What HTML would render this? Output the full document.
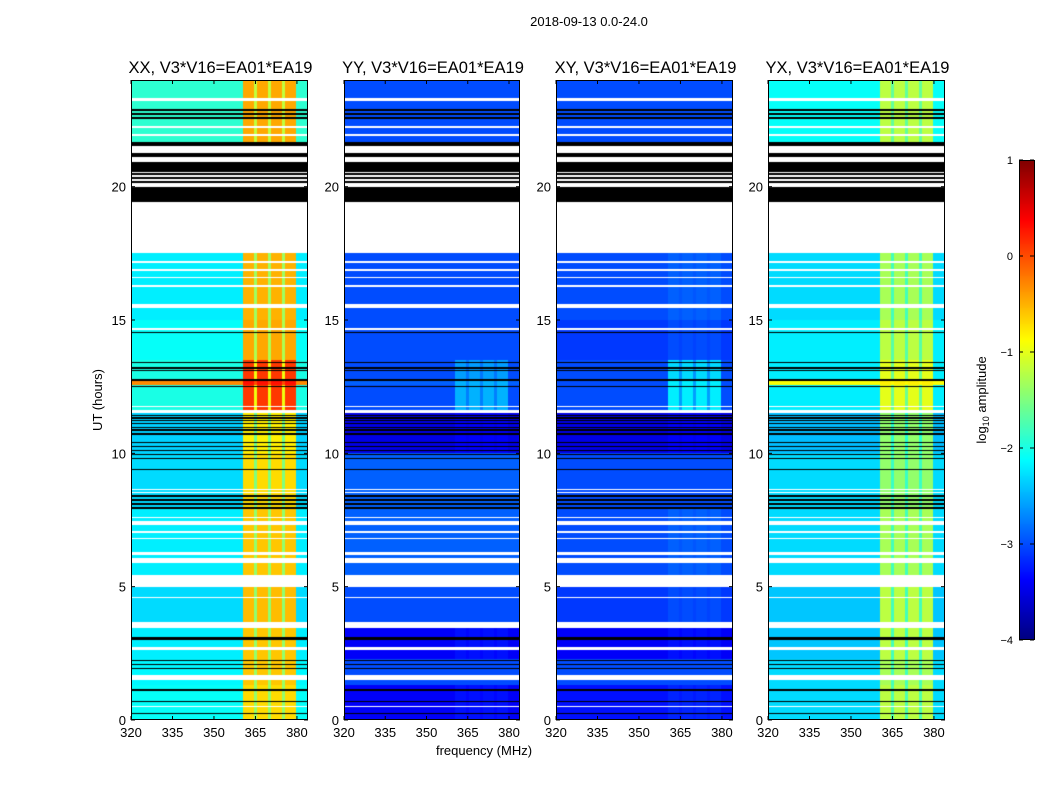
<!DOCTYPE html>
<html><head><meta charset="utf-8">
<style>
body{margin:0;background:#fff;width:1050px;height:800px;overflow:hidden;font-family:"Liberation Sans",sans-serif;}
svg text{font-family:"Liberation Sans",sans-serif;fill:#000;}
canvas{position:absolute;}
</style></head>
<body>
<div id="root" style="position:relative;width:1050px;height:800px;">
<canvas id="c0" width="177" height="640" style="left:131px;top:80px"></canvas>
<canvas id="c1" width="176" height="640" style="left:344px;top:80px"></canvas>
<canvas id="c2" width="177" height="640" style="left:556px;top:80px"></canvas>
<canvas id="c3" width="177" height="640" style="left:768px;top:80px"></canvas>
<canvas id="cb" width="15" height="480" style="left:1019px;top:160px"></canvas>
<svg id="ov" width="1050" height="800" style="position:absolute;left:0;top:0"></svg>
</div>
<script>
// ---- data ----
const panelTitles = ["XX, V3*V16=EA01*EA19","YY, V3*V16=EA01*EA19","XY, V3*V16=EA01*EA19","YX, V3*V16=EA01*EA19"];
const xTicks = [320,335,350,365,380];
const yTicks = [0,5,10,15,20];
const cbTicks = [-4,-3,-2,-1,0,1];
// bright frequency bands (MHz)
const bandStart = [360.5,365.5,370.6,375.7];
const bandEnd   = [364.5,369.5,374.6,379.6];
// time blocks (hours) with per-panel background / band log10 amplitude
const blockStart = [0,1.3,2.3,3.6,5.3,8.0,10,11.5,12.55,12.75,13.5,15,17.5];
const blockEnd   = [1.3,2.3,3.6,5.3,8.0,10,11.5,12.55,12.75,13.5,15,17.5,24];
const xxBg   = [-2.1,-2.15,-2.2,-2.3,-2.2,-2.3,-2.35,-2.0,-0.3,-2.0,-2.1,-2.2,-1.9];
const xxBand = [-0.7,-0.6,-0.6,-0.55,-0.6,-0.7,-0.8,0.1,0.3,0.1,-0.45,-0.5,-0.45];
const yyBg   = [-3.4,-3.0,-3.4,-3.0,-2.9,-2.9,-3.5,-3.0,-2.9,-3.0,-3.0,-3.0,-3.0];
const yyBand = [-3.3,-3.0,-3.3,-3.0,-2.9,-2.9,-3.4,-2.5,-2.5,-2.6,-3.0,-3.0,-3.0];
const xyBg   = [-3.3,-3.0,-3.4,-3.1,-3.0,-3.0,-3.5,-3.0,-3.0,-3.0,-3.1,-3.0,-3.0];
const xyBand = [-3.2,-3.0,-3.3,-3.0,-2.9,-3.0,-3.4,-2.2,-2.2,-2.3,-3.0,-2.9,-3.0];
const yxBg   = [-2.3,-2.3,-2.4,-2.4,-2.3,-2.3,-2.45,-2.2,-0.9,-2.2,-2.2,-2.3,-2.1];
const yxBand = [-1.2,-1.3,-1.2,-1.2,-1.3,-1.4,-1.4,-1.0,-0.8,-1.0,-1.2,-1.3,-1.2];
// flagged rows: start hour, end hour, kind (w = no data, k = flagged zero)
const flagStart = [23.21,22.83,22.68,22.53,22.2,21.9,21.52,21.26,21.11,20.92,20.55,20.51,20.42,20.36,20.29,20.21,20.13,19.99,19.42,17.51,17.15,16.85,16.57,16.25,15.45,14.62,14.5,13.37,13.18,13.07,12.72,12.47,12.17,11.72,11.5,11.4,11.3,11.2,11.1,10.95,10.85,10.7,10.38,10.24,10.09,9.94,9.79,9.36,8.61,8.5,8.38,8.23,8.08,7.93,7.58,7.3,7.03,6.8,6.19,5.89,5.5,4.99,4.56,3.45,3.0,2.62,2.2,2.05,1.9,1.5,1.1,0.66,0.47,0.24];
const flagEnd   = [23.32,22.9,22.75,22.6,22.27,21.97,21.67,21.52,21.26,21.11,20.92,20.55,20.51,20.42,20.36,20.29,20.21,20.13,19.99,19.42,17.2,16.9,16.62,16.3,15.6,14.7,14.54,13.41,13.22,13.11,12.8,12.52,12.2,11.76,11.62,11.45,11.35,11.25,11.15,11.0,10.9,10.75,10.43,10.29,10.14,9.99,9.84,9.41,8.66,8.55,8.43,8.28,8.13,7.98,7.62,7.45,7.07,6.84,6.3,6.07,5.53,5.44,4.6,3.67,3.11,2.74,2.25,2.1,1.95,1.69,1.15,0.7,0.51,0.28];
const flagKind  = ["w","k","k","k","w","w","k","w","k","w","k","w","k","w","k","w","k","w","k","w","w","w","w","w","w","w","k","k","k","k","k","k","k","w","w","k","k","k","k","k","k","k","k","k","k","k","k","k","w","w","k","k","k","k","w","w","w","w","w","w","k","w","w","w","k","w","k","k","k","w","k","k","w","k"];

const bgSeries = [xxBg,yyBg,xyBg,yxBg];
const bandSeries = [xxBand,yyBand,xyBand,yxBand];
const panelLeft = [131,344,556,768];
const panelW = [177,176,177,177];
const PT=80, PH=640, FMIN=320, FMAX=384, HMAX=24;

function jet(t){t=Math.max(0,Math.min(1,t));
  const r=Math.max(0,Math.min(1,1.5-Math.abs(4*t-3)));
  const g=Math.max(0,Math.min(1,1.5-Math.abs(4*t-2)));
  const b=Math.max(0,Math.min(1,1.5-Math.abs(4*t-1)));
  return [r*255|0,g*255|0,b*255|0];}
function colorOf(v){return jet((v+4)/5);}
const xScale=(f,p)=>(f-FMIN)/(FMAX-FMIN)*panelW[p];
const fInv=(x,p)=>FMIN+(x+0.5)/panelW[p]*(FMAX-FMIN);
const yScale=h=>PH-h/HMAX*PH;
const hInv=y=>(PH-(y+0.5))/PH*HMAX;

function valueAt(p,h,f){
  for(let i=0;i<flagStart.length;i++) if(h>=flagStart[i]&&h<flagEnd[i]) return flagKind[i];
  let bi=blockStart.length-1;
  for(let i=0;i<blockStart.length;i++) if(h>=blockStart[i]&&h<blockEnd[i]){bi=i;break;}
  let inBand=false;
  for(let j=0;j<bandStart.length;j++) if(f>=bandStart[j]&&f<bandEnd[j]) inBand=true;
  const bg=bgSeries[p][bi], bd=bandSeries[p][bi];
  if(inBand) return bd;
  if(f>=bandStart[0]&&f<bandEnd[bandEnd.length-1]) return (bg+bd)/2;
  return bg;
}
for(let p=0;p<4;p++){
  const cv=document.getElementById('c'+p),ctx=cv.getContext('2d');
  const W=panelW[p],img=ctx.createImageData(W,PH);
  for(let y=0;y<PH;y++){const h=hInv(y);
    for(let x=0;x<W;x++){const v=valueAt(p,h,fInv(x,p));
      let c; if(v==='w')c=[255,255,255]; else if(v==='k')c=[0,0,0]; else c=colorOf(v);
      const k=(y*W+x)*4;img.data[k]=c[0];img.data[k+1]=c[1];img.data[k+2]=c[2];img.data[k+3]=255;}}
  ctx.putImageData(img,0,0);
}
{const ctx=document.getElementById('cb').getContext('2d');
 for(let y=0;y<480;y++){const c=colorOf(1-(y+0.5)/480*5);ctx.fillStyle=`rgb(${c[0]},${c[1]},${c[2]})`;ctx.fillRect(0,y,15,1);}}

const svg=document.getElementById('ov');const NS='http://www.w3.org/2000/svg';
function el(tag,attrs,txt){const e=document.createElementNS(NS,tag);for(const k in attrs)e.setAttribute(k,attrs[k]);if(txt!==undefined)e.textContent=txt;svg.appendChild(e);return e;}
let t=el('text',{x:589,y:26,'font-size':13,'text-anchor':'middle'},'2018-09-13 0.0-24.0');


for(let p=0;p<4;p++){
  const L=panelLeft[p],W=panelW[p];
  const fr=el('rect',{x:L+0.5,y:PT+0.5,width:W-1,height:PH-1,fill:'none',stroke:'#000','stroke-width':1});
  
  
  const tt=el('text',{x:L+W/2+1,y:73,'font-size':16.5,'text-anchor':'middle'},panelTitles[p]);
  
  
  xTicks.forEach(v=>{const x=L+xScale(v,p);
    el('line',{x1:x,x2:x,y1:PT+PH,y2:PT+PH-4,stroke:'#000'});el('line',{x1:x,x2:x,y1:PT,y2:PT+4,stroke:'#000'});
    const lb=el('text',{x:x,y:PT+PH+17,'font-size':13,'text-anchor':'middle'},String(v));
    
    });
  yTicks.forEach(v=>{const y=PT+yScale(v);
    el('line',{x1:L,x2:L+4,y1:y,y2:y,stroke:'#000'});el('line',{x1:L+W-4,x2:L+W,y1:y,y2:y,stroke:'#000'});
    const lb=el('text',{x:L-5,y:y+5,'font-size':13,'text-anchor':'end'},String(v));
    
    });
}
t=el('text',{x:0,y:0,'font-size':13,'text-anchor':'middle',transform:'translate(102,400) rotate(-90)'},'UT (hours)');


t=el('text',{x:484,y:755,'font-size':13,'text-anchor':'middle'},'frequency (MHz)');


const cbf=el('rect',{x:1019.5,y:160.5,width:15,height:479,fill:'none',stroke:'#000'});


cbTicks.forEach(v=>{const y=160+(1-v)/5*480;
  el('line',{x1:1019,x2:1023,y1:y,y2:y,stroke:'#000'});el('line',{x1:1030,x2:1034,y1:y,y2:y,stroke:'#000'});
  const lb=el('text',{x:1013,y:y+4,'font-size':11,'text-anchor':'end'},v<0?'\u2212'+(-v):String(v));
  
  });
t=el('text',{x:0,y:0,'font-size':13,'text-anchor':'middle',transform:'translate(986,400) rotate(-90)'});
t.innerHTML='log<tspan font-size="9" dy="3">10</tspan><tspan dy="-3"> amplitude</tspan>';


</script>
</body></html>
